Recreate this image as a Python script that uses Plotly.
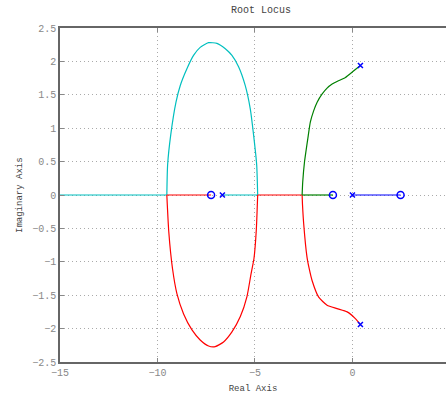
import plotly.graph_objects as go

# Poles and zeros
pole_re = [-6.67, 0.0, 0.41, 0.41]
pole_im = [0.0, 0.0, 1.94, -1.94]
zero_re = [-7.25, -1.0, 2.47]
zero_im = [0.0, 0.0, 0.0]

# Cyan branch: real axis from pole -6.67 to breakaway, upper loop, then to -inf
cyan_axis1_re = [-6.67, -4.86]
cyan_loop_re = [-4.86, -4.91, -5.07, -5.24, -5.50, -5.84, -6.18, -6.52, -6.95, -7.38, -7.81, -8.15, -8.49, -8.83, -9.05, -9.32, -9.48, -9.52]
cyan_loop_im = [0.0, 0.45, 0.90, 1.29, 1.64, 1.92, 2.09, 2.19, 2.27, 2.28, 2.21, 2.09, 1.89, 1.64, 1.39, 0.90, 0.45, 0.0]
cyan_axis2_re = [-9.52, -16.0]

# Red branch: lower complex pole down to real axis, to breakaway, lower loop, to zero
red_curve_re = [0.41, 0.15, -0.27, -0.79, -1.30, -1.73, -2.07, -2.22, -2.33, -2.50, -2.56, -2.58]
red_curve_im = [-1.94, -1.85, -1.75, -1.70, -1.65, -1.53, -1.28, -1.10, -0.93, -0.43, -0.15, 0.0]
red_axis1_re = [-2.58, -4.86]
red_loop_re = [-4.86, -4.93, -5.05, -5.20, -5.41, -5.75, -6.18, -6.61, -7.04, -7.38, -7.81, -8.23, -8.66, -9.00, -9.23, -9.42, -9.52]
red_loop_im = [0.0, -0.52, -0.95, -1.18, -1.52, -1.82, -2.05, -2.20, -2.27, -2.26, -2.17, -2.02, -1.78, -1.48, -1.10, -0.55, 0.0]
red_axis2_re = [-9.52, -7.25]

# Green branch: upper complex pole to real axis, then to zero at -1
green_curve_re = [0.41, 0.07, -0.36, -0.79, -1.04, -1.30, -1.56, -1.81, -1.99, -2.16, -2.29, -2.46, -2.55, -2.58]
green_curve_im = [1.94, 1.86, 1.76, 1.70, 1.66, 1.60, 1.51, 1.39, 1.26, 1.09, 0.84, 0.49, 0.19, 0.0]
green_axis_re = [-2.58, -1.0]

# Blue branch: pole at 0 to zero at 2.47
blue_axis_re = [0.0, 2.47]

x_tick_vals = [-15, -10, -5, 0]
x_tick_text = ["−15", "−10", "−5", "0"]
y_tick_vals = [-2.5, -2, -1.5, -1, -0.5, 0, 0.5, 1, 1.5, 2, 2.5]
y_tick_text = ["−2.5", "−2", "−1.5", "−1", "−0.5", "0", "0.5", "1", "1.5", "2", "2.5"]

CYAN = "#00bfbf"
RED = "#ff0000"
GREEN = "#008000"
BLUE = "#0000ff"

fig = go.Figure()

def axis_seg(xs, color):
    fig.add_trace(go.Scatter(x=xs, y=[0] * len(xs), mode="lines",
                             line=dict(color=color, width=1.2), hoverinfo="skip"))

def curve(xs, ys, color):
    fig.add_trace(go.Scatter(x=xs, y=ys, mode="lines",
                             line=dict(color=color, width=1.2, shape="spline", smoothing=0.55),
                             hoverinfo="skip"))

axis_seg(cyan_axis2_re, CYAN)
axis_seg(cyan_axis1_re, CYAN)
curve(cyan_loop_re, cyan_loop_im, CYAN)
axis_seg(red_axis1_re, RED)
axis_seg(red_axis2_re, RED)
curve(red_loop_re, red_loop_im, RED)
curve(red_curve_re, red_curve_im, RED)
axis_seg(green_axis_re, GREEN)
curve(green_curve_re, green_curve_im, GREEN)
axis_seg(blue_axis_re, BLUE)

fig.add_trace(go.Scatter(x=pole_re, y=pole_im, mode="markers",
                         marker=dict(symbol="x-thin", size=5, line=dict(color=BLUE, width=1.5)),
                         hoverinfo="skip"))
fig.add_trace(go.Scatter(x=zero_re, y=zero_im, mode="markers",
                         marker=dict(symbol="circle-open", size=7, color=BLUE, line=dict(width=1.5)),
                         hoverinfo="skip"))

mono = "Liberation Mono, Courier New, monospace"
grid_dash = "1px,3px"
fig.update_layout(
    width=446, height=394,
    margin=dict(l=60, r=0, t=28, b=32, autoexpand=False),
    plot_bgcolor="white", paper_bgcolor="white",
    showlegend=False,
    title=dict(text="Root Locus", x=0.585, xanchor="center", y=0.985, yanchor="top",
               font=dict(family=mono, size=10, color="#444444")),
    xaxis=dict(range=[-15, 4.8], tickvals=x_tick_vals, ticktext=x_tick_text,
               automargin=False,
               showgrid=True, gridcolor="#aaaaaa", griddash=grid_dash, gridwidth=1,
               zeroline=False, showline=True, linecolor="#666666", linewidth=1.5,
               mirror="ticks", ticks="inside", ticklen=4, tickcolor="#888888",
               tickfont=dict(family=mono, size=10, color="#888888"),
               title=dict(text="Real Axis", font=dict(family=mono, size=9, color="#444444"))),
    yaxis=dict(range=[-2.5, 2.5], tickvals=y_tick_vals, ticktext=y_tick_text,
               automargin=False,
               showgrid=True, gridcolor="#aaaaaa", griddash=grid_dash, gridwidth=1,
               zeroline=False, showline=True, linecolor="#666666", linewidth=1.5,
               mirror=False, ticks="inside", ticklen=4, tickcolor="#888888",
               tickfont=dict(family=mono, size=10, color="#888888"),
               ticklabelstandoff=0),
    annotations=[dict(text="Imaginary Axis", xref="paper", yref="paper", x=0, y=0.5,
                      xanchor="center", yanchor="middle", xshift=-40, textangle=-90,
                      showarrow=False, font=dict(family=mono, size=9, color="#444444"))],
)

fig.write_html("out.html", config={"displayModeBar": False},
               post_script="document.body.style.margin='0';document.body.style.overflow='hidden';")
